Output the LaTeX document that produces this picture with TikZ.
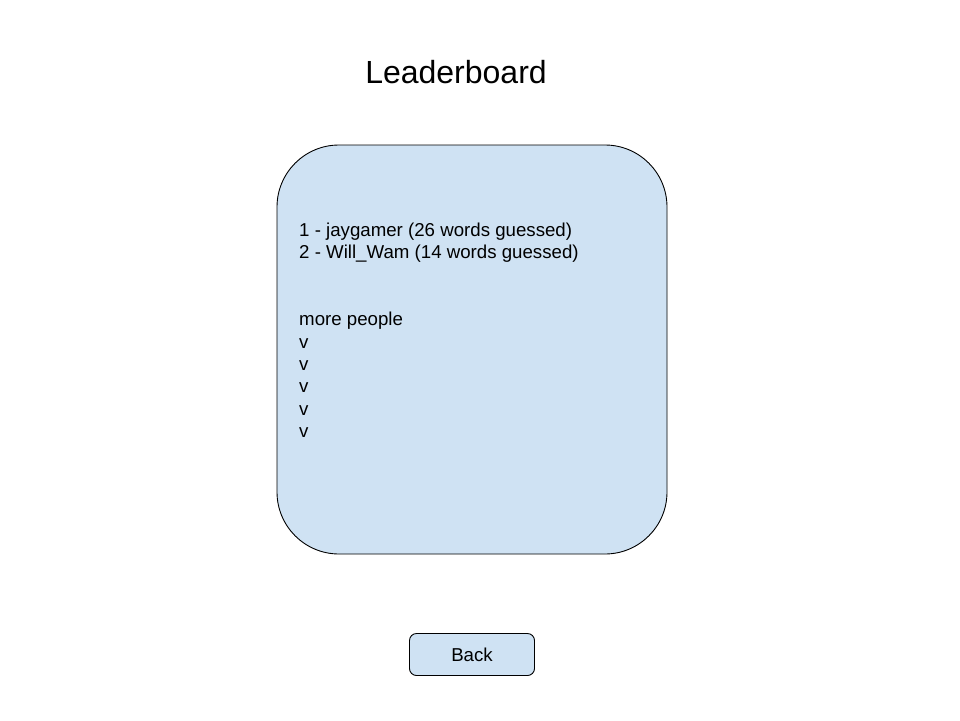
\documentclass[tikz,border=0pt]{standalone}
\usepackage{fontspec}
\setmainfont{Liberation Sans}
\definecolor{boxblue}{HTML}{CFE2F3}
\begin{document}
\begin{tikzpicture}[x=1pt,y=-1pt,
  panel/.style={draw=black,fill=boxblue,line width=0.9pt},
  bodytext/.style={anchor=base west,inner sep=0pt,font=\fontsize{18.67}{22.4}\selectfont},
  titletext/.style={anchor=base,inner sep=0pt,font=\fontsize{32}{38}\selectfont}]
\useasboundingbox[fill=white] (0,0) rectangle (960,720);
\node[titletext] (title) at (456,83) {Leaderboard};
\draw[panel,rounded corners=62pt] (277,145) rectangle (667,554);
\node[bodytext] (l1) at (299,236) {1 - jaygamer (26 words guessed)};
\node[bodytext] (l2) at (299,258.4) {2 - Will\_Wam (14 words guessed)};
\node[bodytext] (l5) at (299,325.6) {more people};
\node[bodytext] (v1) at (299,348) {v};
\node[bodytext] (v2) at (299,370.4) {v};
\node[bodytext] (v3) at (299,392.8) {v};
\node[bodytext] (v4) at (299,415.2) {v};
\node[bodytext] (v5) at (299,437.6) {v};
\draw[panel,rounded corners=7pt] (409.5,633.5) rectangle (534.5,675.5);
\node[bodytext,anchor=base] (back) at (472,661) {Back};
\end{tikzpicture}
\end{document}
